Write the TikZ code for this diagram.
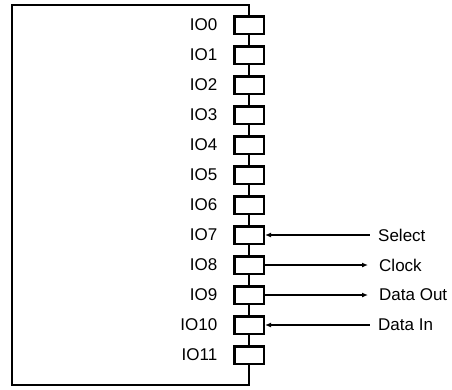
\documentclass[tikz,border=0pt]{standalone}
\usepackage{fontspec}
\setmainfont{Liberation Sans}
\usetikzlibrary{arrows.meta,positioning}

\begin{document}
\begin{tikzpicture}[
			x=1pt,y=-1pt,
			chip/.style={rectangle,draw=black,line width=2.2pt,inner sep=0pt},
			pin/.style={rectangle,draw=black,fill=white,line width=2.5pt,
				minimum width=29.5pt,minimum height=17.5pt,inner sep=0pt},
			pinname/.style={font=\fontsize{17}{20}\selectfont,inner sep=0pt},
			sig/.style={draw=black,line width=1.3pt},
			sigin/.style={sig,{Latex[length=6pt,width=5pt]}-},
			sigout/.style={sig,-{Latex[length=6pt,width=5pt]}},
			signame/.style={font=\fontsize{17}{20}\selectfont,inner sep=0pt,anchor=west}]
			\useasboundingbox (0,0) rectangle (452,389);
			\node[chip,minimum width=237pt,minimum height=380pt] (chip) at (130.5,195) {};
			\foreach \k in {0,...,11}{
				\node[pin] (io\k) at (249,{25+30*\k}) {};
				\node[pinname,left=15.5pt of io\k] (name\k) {IO\k};
			}
			\coordinate (sel) at (370,235);
			\coordinate (clk) at (368,265);
			\coordinate (dout) at (368,295);
			\coordinate (din) at (370,325);
			\draw[sigin] (io7.east) -- (sel);
			\draw[sigout] (io8.east) -- (clk);
			\draw[sigout] (io9.east) -- (dout);
			\draw[sigin] (io10.east) -- (din);
			\node[signame] (selname) at (378,235) {Select};
			\node[signame] (clkname) at (379,265) {Clock};
			\node[signame] (doutname) at (379,295) {Data Out};
			\node[signame] (dinname) at (378,325) {Data In};
		\end{tikzpicture}
\end{document}
